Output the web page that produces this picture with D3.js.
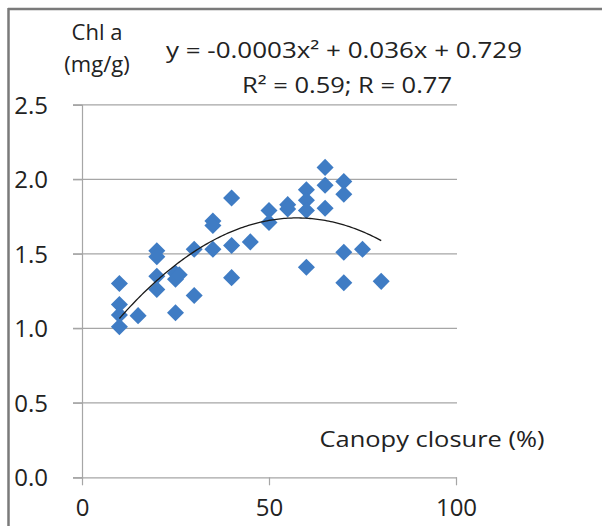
<!DOCTYPE html>
<html><head><meta charset="utf-8">
<script src="https://cdn.jsdelivr.net/npm/d3@7"></script>
<style>html,body{margin:0;padding:0;background:#fff;}svg{display:block;}</style>
</head><body>
<svg id="chart" width="602" height="526"></svg>
<script>
// ---- data ----
const canopy = [10,10,10,10,15,20,20,20,20,25,25,25,26,30,30,35,35,35,40,40,40,45,50,50,55,55,60,60,60,60,65,65,65,70,70,70,70,75,80];
const chlA   = [1.30,1.16,1.09,1.01,1.085,1.52,1.48,1.35,1.26,1.37,1.33,1.105,1.36,1.53,1.22,1.72,1.69,1.53,1.875,1.555,1.34,1.58,1.79,1.71,1.83,1.80,1.93,1.86,1.79,1.41,2.08,1.96,1.805,1.985,1.90,1.51,1.305,1.53,1.315];
const xTicks = [0,50,100];
const yTicks = [0,0.5,1.0,1.5,2.0,2.5];
const equationText = "y = -0.0003x\u00B2 + 0.036x + 0.729";
const rText = "R\u00B2 = 0.59; R = 0.77";
const yTitle = ["Chl a","(mg/g)"];
const xTitle = "Canopy closure (%)";

const svg = d3.select("#chart");
const x = d3.scaleLinear().domain([0,100]).range([82,456]);
const y = d3.scaleLinear().domain([0,2.5]).range([477.3,104.8]);
const font = "'Open Sans', 'Noto Sans', sans-serif";

// frame (top + left)
svg.append("line").attr("x1",8).attr("x2",602).attr("y1",9).attr("y2",9).attr("stroke","#7a7a7a").attr("stroke-width",2.5);
svg.append("line").attr("x1",8.5).attr("x2",8.5).attr("y1",8).attr("y2",526).attr("stroke","#7a7a7a").attr("stroke-width",2.5);

// gridlines
svg.append("g").selectAll("line").data(yTicks.filter(d=>d>0)).join("line")
  .attr("x1",73).attr("x2",457).attr("y1",d=>y(d)).attr("y2",d=>y(d))
  .attr("stroke","#a6a6a6").attr("stroke-width",1.2);

// y axis
const yAxis = d3.axisLeft(y).tickValues(yTicks).tickSize(9).tickPadding(25).tickFormat(d3.format(".1f"));
const gy = svg.append("g").attr("transform",`translate(${x(0)},0)`).call(yAxis);
gy.select(".domain").attr("stroke","#a6a6a6").attr("stroke-width",1.2);
gy.selectAll(".tick line").attr("stroke","#a6a6a6").attr("stroke-width",1.2);
gy.selectAll("text").attr("font-family",font).attr("font-size",24).attr("fill","#222").attr("dy","0.35em");

// x axis
const xAxis = d3.axisBottom(x).tickValues(xTicks).tickSize(8).tickPadding(14).tickSizeOuter(0);
const gx = svg.append("g").attr("transform",`translate(0,${y(0)})`).call(xAxis);
gx.select(".domain").attr("stroke","#a6a6a6").attr("stroke-width",1.2).attr("d",`M73,0.5H457`);
gx.selectAll(".tick line").attr("stroke","#a6a6a6").attr("stroke-width",1.2);
gx.selectAll("text").attr("font-family",font).attr("font-size",24).attr("fill","#222");

// points
const pts = canopy.map((c,i)=>({c, v: chlA[i]}));
const diamond = d3.symbol().type(d3.symbolDiamond2).size(185);
svg.append("g").selectAll("path").data(pts).join("path")
  .attr("d",diamond)
  .attr("transform",d=>`translate(${x(d.c)},${y(d.v)})`)
  .attr("fill","#3f7cc4");

// polynomial (order 2) least-squares trendline computed from data
function polyfit2(xs, ys){
  let n=xs.length,s=[0,0,0,0,0],t=[0,0,0];
  for(let i=0;i<n;i++){const xi=xs[i];let p=1;for(let k=0;k<5;k++){s[k]+=p;if(k<3)t[k]+=p*ys[i];p*=xi;}}
  const M=[[s[0],s[1],s[2],t[0]],[s[1],s[2],s[3],t[1]],[s[2],s[3],s[4],t[2]]];
  for(let i=0;i<3;i++){for(let j=i+1;j<3;j++){const f=M[j][i]/M[i][i];for(let k=i;k<4;k++)M[j][k]-=f*M[i][k];}}
  const c=[0,0,0];
  for(let i=2;i>=0;i--){let sum=M[i][3];for(let k=i+1;k<3;k++)sum-=M[i][k]*c[k];c[i]=sum/M[i][i];}
  return c; // c0 + c1 x + c2 x^2
}
const coef = polyfit2(canopy, chlA);
const xs = d3.range(d3.min(canopy), d3.max(canopy)+0.01, 0.5);
const line = d3.line().x(d=>x(d)).y(d=>y(coef[0]+coef[1]*d+coef[2]*d*d)).curve(d3.curveLinear);
svg.append("path").attr("d",line(xs)).attr("fill","none").attr("stroke","#1a1a1a").attr("stroke-width",1.3);

// titles
svg.append("text").attr("x",97).attr("y",40).attr("text-anchor","middle").attr("font-family",font).attr("font-size",22).attr("fill","#222").text(yTitle[0]);
svg.append("text").attr("x",97).attr("y",72).attr("text-anchor","middle").attr("font-family",font).attr("font-size",22).attr("fill","#222").text(yTitle[1]);
svg.append("text").attr("x",344).attr("y",58).attr("text-anchor","middle").attr("font-family",font).attr("font-size",22).attr("fill","#222")
  .attr("textLength",356).attr("lengthAdjust","spacingAndGlyphs").text(equationText);
svg.append("text").attr("x",347).attr("y",93).attr("text-anchor","middle").attr("font-family",font).attr("font-size",22).attr("fill","#222")
  .attr("textLength",210).attr("lengthAdjust","spacingAndGlyphs").text(rText);
svg.append("text").attr("x",432).attr("y",447).attr("text-anchor","middle").attr("font-family",font).attr("font-size",22).attr("fill","#222")
  .attr("textLength",225).attr("lengthAdjust","spacingAndGlyphs").text(xTitle);
</script>
</body></html>
